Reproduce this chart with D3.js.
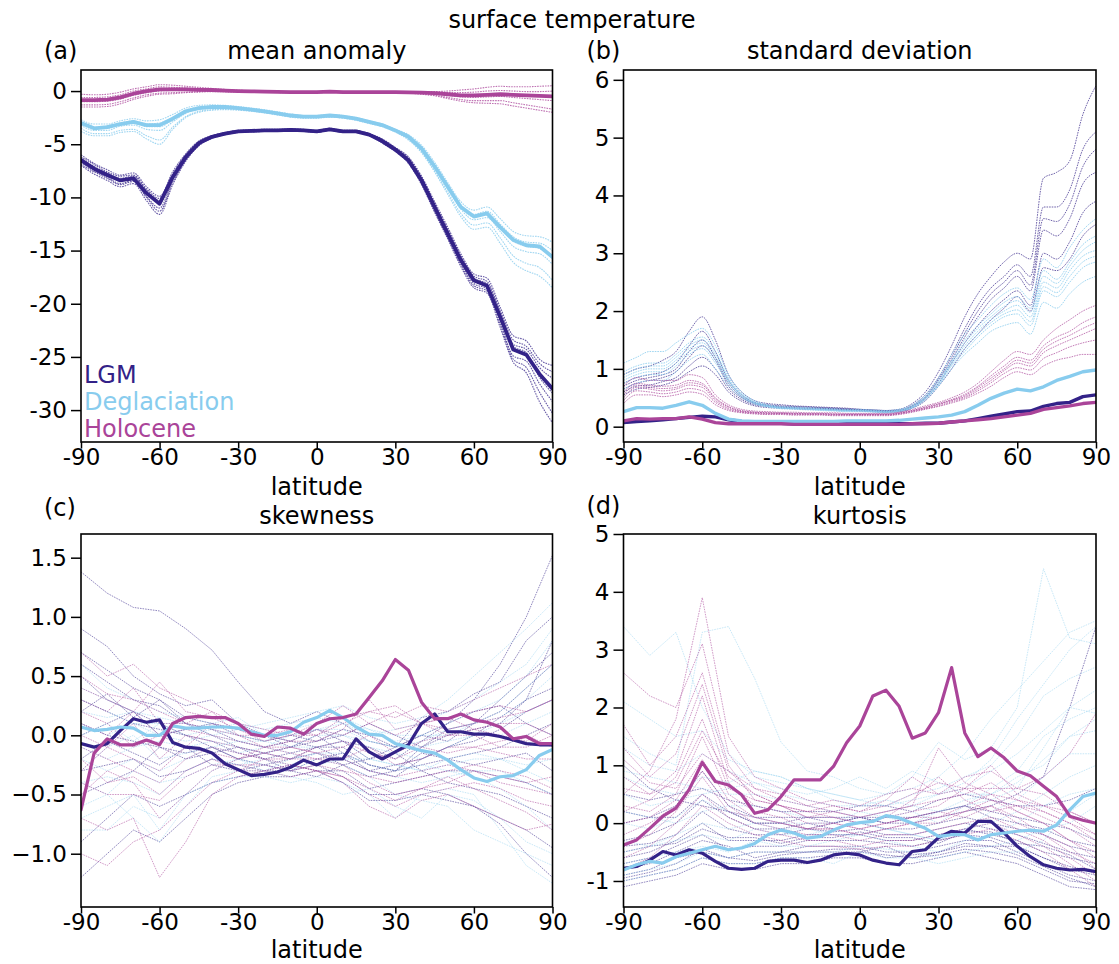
<!DOCTYPE html>
<html>
<head>
<meta charset="utf-8">
<script src="https://cdn.jsdelivr.net/npm/d3@7"></script>
<style>
  body { margin: 0; background: #fff; }
  svg text { font-family: "DejaVu Sans", sans-serif; }
</style>
</head>
<body>
<svg id="fig" width="1119" height="964"></svg>
<script>
// ---------- latitude grids ----------
const lat5 = [-90,-85,-80,-75,-70,-65,-60,-55,-50,-45,-40,-35,-30,-25,-20,-15,-10,-5,0,5,10,15,20,25,30,35,40,45,50,55,60,65,70,75,80,85,90];
const lat10 = [-90,-80,-70,-60,-50,-40,-30,-20,-10,0,10,20,30,40,50,60,70,80,90];
const latTicks = [-90,-60,-30,0,30,60,90];

const seriesNames = ["LGM", "Deglaciation", "Holocene"];
const seriesColors = ["#332288", "#88CCEE", "#AA4499"];

// ---------- (a) mean anomaly ----------
const anomLGM = [-6.5,-7.3,-7.9,-8.4,-8.2,-9.6,-10.6,-8.1,-6.2,-4.9,-4.3,-4.0,-3.8,-3.75,-3.7,-3.7,-3.65,-3.7,-3.8,-3.6,-3.8,-3.8,-4.1,-4.7,-5.5,-6.5,-8.4,-10.9,-13.4,-15.9,-17.8,-18.3,-21.2,-24.3,-24.8,-26.6,-28.0];
const anomDeg = [-3.0,-3.5,-3.4,-3.1,-2.9,-3.2,-3.2,-2.6,-1.9,-1.6,-1.5,-1.5,-1.6,-1.75,-1.9,-2.1,-2.3,-2.4,-2.4,-2.3,-2.4,-2.6,-2.9,-3.2,-3.7,-4.3,-5.4,-7.1,-9.0,-10.9,-11.8,-11.5,-12.8,-14.0,-14.5,-14.6,-15.6];
const anomHol = [-0.85,-0.85,-0.8,-0.6,-0.25,0.0,0.15,0.15,0.15,0.12,0.1,0.05,0.0,-0.03,-0.05,-0.08,-0.1,-0.1,-0.1,-0.05,-0.1,-0.1,-0.1,-0.1,-0.1,-0.12,-0.15,-0.2,-0.3,-0.4,-0.4,-0.35,-0.3,-0.35,-0.4,-0.45,-0.5];

const anomLGMMembers = [
  [-6.0,-6.8,-7.4,-7.9,-7.7,-9.0,-9.9,-7.6,-5.9,-4.7,-4.2,-3.9,-3.7,-3.65,-3.6,-3.6,-3.55,-3.6,-3.7,-3.5,-3.7,-3.7,-4.0,-4.5,-5.3,-6.2,-8.0,-10.4,-12.8,-15.3,-17.2,-17.6,-20.3,-23.0,-23.5,-25.2,-25.8],
  [-6.3,-7.1,-7.7,-8.2,-8.0,-9.3,-10.3,-7.9,-6.1,-4.8,-4.25,-3.95,-3.75,-3.7,-3.65,-3.65,-3.6,-3.65,-3.75,-3.55,-3.75,-3.75,-4.05,-4.6,-5.4,-6.4,-8.2,-10.7,-13.2,-15.7,-17.6,-18.1,-20.9,-23.8,-24.3,-26.0,-27.0],
  [-6.7,-7.5,-8.1,-8.7,-8.4,-9.9,-11.0,-8.4,-6.4,-5.0,-4.35,-4.05,-3.85,-3.8,-3.75,-3.75,-3.7,-3.75,-3.85,-3.65,-3.85,-3.85,-4.15,-4.8,-5.6,-6.6,-8.6,-11.1,-13.6,-16.1,-18.1,-18.6,-21.6,-24.9,-25.4,-27.5,-29.2],
  [-7.0,-7.8,-8.4,-9.0,-8.7,-10.3,-11.6,-8.8,-6.6,-5.15,-4.45,-4.1,-3.9,-3.85,-3.8,-3.8,-3.75,-3.8,-3.9,-3.7,-3.9,-3.9,-4.2,-4.9,-5.7,-6.8,-8.8,-11.4,-13.9,-16.5,-18.5,-19.0,-22.2,-25.5,-26.5,-29.2,-31.2],
  [-6.6,-7.2,-7.8,-8.3,-8.1,-9.5,-10.5,-8.2,-6.3,-5.0,-4.3,-4.0,-3.8,-3.75,-3.7,-3.7,-3.65,-3.7,-3.8,-3.6,-3.8,-3.8,-4.1,-4.7,-5.5,-6.5,-8.3,-10.8,-13.4,-15.9,-17.9,-18.4,-21.0,-24.0,-24.6,-26.9,-28.4],
  [-6.2,-6.9,-7.6,-8.0,-7.9,-9.2,-10.1,-7.8,-6.0,-4.75,-4.2,-3.9,-3.72,-3.68,-3.62,-3.62,-3.58,-3.62,-3.72,-3.52,-3.72,-3.72,-4.02,-4.55,-5.35,-6.3,-8.1,-10.6,-13.0,-15.5,-17.4,-17.9,-20.6,-23.4,-24.0,-25.6,-26.4],
  [-6.9,-7.6,-8.2,-8.8,-8.5,-10.0,-11.3,-8.6,-6.5,-5.1,-4.4,-4.08,-3.88,-3.82,-3.78,-3.78,-3.72,-3.78,-3.88,-3.68,-3.88,-3.88,-4.18,-4.85,-5.65,-6.7,-8.7,-11.3,-13.8,-16.3,-18.3,-18.8,-21.9,-25.2,-26.0,-28.3,-30.3]
];
const anomDegMembers = [
  [-2.7,-3.1,-3.1,-2.8,-2.6,-2.8,-2.7,-2.2,-1.6,-1.35,-1.3,-1.35,-1.45,-1.6,-1.75,-1.95,-2.15,-2.3,-2.3,-2.2,-2.3,-2.5,-2.8,-3.1,-3.6,-4.1,-5.1,-6.7,-8.6,-10.4,-11.2,-10.9,-12.0,-13.2,-13.6,-13.7,-14.2],
  [-2.9,-3.4,-3.3,-3.0,-2.8,-3.1,-3.0,-2.5,-1.8,-1.5,-1.45,-1.45,-1.55,-1.7,-1.85,-2.05,-2.25,-2.35,-2.35,-2.25,-2.35,-2.55,-2.85,-3.15,-3.65,-4.2,-5.3,-6.9,-8.8,-10.7,-11.6,-11.3,-12.5,-13.7,-14.2,-14.3,-15.0],
  [-3.2,-3.7,-3.7,-3.3,-3.2,-3.6,-3.7,-2.9,-2.1,-1.7,-1.6,-1.6,-1.65,-1.8,-1.95,-2.15,-2.35,-2.45,-2.45,-2.35,-2.45,-2.65,-2.95,-3.25,-3.75,-4.4,-5.5,-7.2,-9.2,-11.1,-12.1,-11.9,-13.2,-14.6,-15.1,-15.3,-16.3],
  [-3.5,-4.0,-4.0,-3.7,-3.6,-4.2,-4.6,-3.4,-2.4,-1.9,-1.75,-1.7,-1.75,-1.85,-2.0,-2.2,-2.4,-2.5,-2.5,-2.4,-2.5,-2.7,-3.0,-3.3,-3.8,-4.5,-5.7,-7.5,-9.5,-11.5,-12.6,-12.4,-13.8,-15.5,-16.2,-16.6,-17.8],
  [-3.8,-4.2,-4.2,-3.9,-3.8,-4.5,-5.0,-3.6,-2.5,-2.0,-1.8,-1.75,-1.8,-1.9,-2.05,-2.25,-2.45,-2.55,-2.55,-2.45,-2.55,-2.75,-3.05,-3.35,-3.85,-4.6,-5.8,-7.6,-9.7,-11.8,-13.0,-12.8,-14.3,-16.1,-16.9,-17.4,-18.5],
  [-3.0,-3.5,-3.5,-3.15,-3.0,-3.35,-3.35,-2.7,-1.95,-1.6,-1.52,-1.52,-1.6,-1.75,-1.9,-2.1,-2.3,-2.4,-2.4,-2.3,-2.4,-2.6,-2.9,-3.2,-3.7,-4.3,-5.4,-7.0,-9.0,-10.9,-11.8,-11.6,-12.8,-14.1,-14.6,-14.8,-15.6]
];
const anomHolMembers = [
  [-0.3,-0.35,-0.3,-0.1,0.2,0.4,0.6,0.55,0.45,0.35,0.25,0.15,0.08,0.03,0.0,-0.03,-0.05,-0.05,-0.05,0.0,-0.05,-0.05,-0.05,-0.05,-0.05,-0.05,-0.05,-0.05,0.0,0.1,0.2,0.35,0.45,0.4,0.4,0.45,0.5],
  [-0.6,-0.6,-0.55,-0.35,0.0,0.2,0.4,0.35,0.3,0.25,0.18,0.1,0.04,0.0,-0.03,-0.06,-0.08,-0.08,-0.08,-0.04,-0.08,-0.08,-0.08,-0.08,-0.08,-0.1,-0.1,-0.12,-0.15,-0.15,-0.1,0.0,0.05,0.0,-0.05,-0.05,0.0],
  [-1.0,-1.0,-0.95,-0.75,-0.4,-0.15,0.0,0.05,0.05,0.05,0.05,0.0,-0.02,-0.05,-0.07,-0.1,-0.12,-0.12,-0.12,-0.07,-0.12,-0.12,-0.12,-0.12,-0.12,-0.15,-0.2,-0.28,-0.4,-0.55,-0.6,-0.55,-0.5,-0.6,-0.7,-0.8,-0.9],
  [-1.3,-1.3,-1.25,-1.0,-0.65,-0.35,-0.2,-0.15,-0.1,-0.05,-0.02,-0.05,-0.06,-0.08,-0.1,-0.12,-0.14,-0.14,-0.14,-0.1,-0.14,-0.14,-0.14,-0.14,-0.15,-0.18,-0.25,-0.38,-0.6,-0.8,-0.9,-0.9,-0.9,-1.1,-1.3,-1.5,-1.7],
  [-1.5,-1.5,-1.45,-1.2,-0.8,-0.5,-0.3,-0.25,-0.15,-0.1,-0.05,-0.07,-0.08,-0.1,-0.12,-0.14,-0.16,-0.16,-0.16,-0.12,-0.16,-0.16,-0.16,-0.16,-0.17,-0.2,-0.3,-0.45,-0.7,-0.95,-1.1,-1.15,-1.2,-1.4,-1.6,-1.8,-2.0],
  [-0.8,-0.8,-0.75,-0.55,-0.2,0.05,0.2,0.2,0.18,0.15,0.12,0.05,0.01,-0.03,-0.05,-0.08,-0.1,-0.1,-0.1,-0.05,-0.1,-0.1,-0.1,-0.1,-0.1,-0.12,-0.15,-0.2,-0.3,-0.35,-0.35,-0.3,-0.25,-0.3,-0.35,-0.4,-0.45]
];

// ---------- (b) standard deviation ----------
const sdLGM = [0.07,0.09,0.1,0.12,0.14,0.16,0.18,0.17,0.12,0.09,0.07,0.06,0.06,0.05,0.05,0.05,0.05,0.05,0.05,0.05,0.05,0.05,0.05,0.06,0.06,0.08,0.1,0.14,0.18,0.22,0.26,0.27,0.35,0.4,0.42,0.52,0.55];
const sdDeg = [0.26,0.33,0.33,0.32,0.37,0.43,0.37,0.23,0.13,0.1,0.09,0.09,0.09,0.09,0.09,0.09,0.09,0.1,0.1,0.1,0.1,0.11,0.13,0.15,0.17,0.2,0.26,0.37,0.49,0.58,0.65,0.62,0.69,0.8,0.87,0.95,0.98];
const sdHol = [0.1,0.14,0.13,0.14,0.14,0.17,0.13,0.07,0.05,0.05,0.05,0.05,0.05,0.04,0.04,0.04,0.04,0.04,0.04,0.04,0.04,0.04,0.05,0.05,0.06,0.08,0.1,0.12,0.14,0.17,0.2,0.23,0.3,0.33,0.36,0.4,0.42];

const sdLGMMembers = [
  [0.9,1.0,1.05,1.15,1.3,1.65,1.9,1.5,0.9,0.6,0.45,0.4,0.38,0.36,0.35,0.34,0.33,0.32,0.3,0.29,0.28,0.3,0.4,0.6,0.95,1.4,1.9,2.3,2.6,2.85,3.0,2.9,4.3,4.4,4.6,5.4,5.9],
  [0.75,0.85,0.9,0.95,1.1,1.4,1.65,1.3,0.8,0.55,0.42,0.38,0.36,0.35,0.34,0.33,0.32,0.31,0.3,0.29,0.28,0.29,0.37,0.55,0.85,1.25,1.7,2.1,2.4,2.6,2.8,2.6,3.8,3.8,4.1,4.8,5.1],
  [0.65,0.75,0.8,0.85,0.95,1.2,1.4,1.15,0.7,0.5,0.4,0.36,0.34,0.33,0.32,0.32,0.31,0.3,0.29,0.28,0.27,0.28,0.35,0.5,0.8,1.15,1.55,1.9,2.2,2.4,2.6,2.35,3.4,3.3,3.6,4.2,4.4],
  [0.6,0.7,0.72,0.78,0.85,1.05,1.2,1.0,0.65,0.47,0.38,0.35,0.33,0.32,0.31,0.31,0.3,0.29,0.28,0.27,0.26,0.27,0.33,0.48,0.75,1.1,1.45,1.75,2.0,2.2,2.35,2.1,3.0,2.9,3.2,3.7,3.9],
  [0.55,0.65,0.68,0.72,0.8,0.95,1.05,0.9,0.6,0.44,0.36,0.33,0.32,0.31,0.3,0.3,0.29,0.28,0.27,0.26,0.25,0.26,0.32,0.45,0.7,1.0,1.35,1.6,1.85,2.05,2.25,2.0,2.75,2.7,2.9,3.3,3.5],
  [0.7,0.8,0.85,0.9,1.0,1.3,1.5,1.2,0.75,0.52,0.41,0.37,0.35,0.34,0.33,0.32,0.31,0.3,0.29,0.28,0.27,0.28,0.36,0.52,0.82,1.2,1.62,2.0,2.3,2.5,2.7,2.45,3.6,3.55,3.85,4.5,4.8]
];
const sdDegMembers = [
  [1.1,1.2,1.3,1.3,1.45,1.6,1.7,1.4,0.9,0.6,0.45,0.38,0.35,0.34,0.33,0.32,0.31,0.3,0.3,0.29,0.28,0.3,0.38,0.55,0.85,1.25,1.6,1.85,2.1,2.3,2.4,2.2,2.9,2.75,3.1,3.4,3.6],
  [0.95,1.05,1.1,1.1,1.25,1.45,1.55,1.3,0.85,0.57,0.43,0.37,0.34,0.33,0.32,0.31,0.3,0.29,0.29,0.28,0.27,0.29,0.36,0.52,0.8,1.15,1.5,1.75,1.95,2.15,2.25,2.05,2.7,2.55,2.85,3.15,3.3],
  [0.85,0.95,1.0,1.0,1.15,1.35,1.45,1.2,0.8,0.55,0.42,0.36,0.33,0.32,0.31,0.3,0.29,0.28,0.28,0.27,0.26,0.28,0.34,0.5,0.75,1.1,1.4,1.65,1.85,2.0,2.1,1.9,2.5,2.4,2.7,2.95,3.05],
  [0.75,0.85,0.9,0.9,1.05,1.25,1.35,1.1,0.75,0.52,0.4,0.35,0.32,0.31,0.3,0.29,0.28,0.27,0.27,0.26,0.25,0.27,0.33,0.48,0.72,1.05,1.3,1.55,1.75,1.9,1.95,1.75,2.35,2.25,2.5,2.75,2.85],
  [0.65,0.75,0.8,0.8,0.95,1.15,1.25,1.0,0.7,0.5,0.39,0.34,0.31,0.3,0.29,0.28,0.27,0.26,0.26,0.25,0.24,0.26,0.32,0.46,0.7,1.0,1.25,1.45,1.65,1.75,1.8,1.6,2.15,2.05,2.3,2.5,2.6],
  [0.9,1.0,1.05,1.05,1.2,1.4,1.5,1.25,0.82,0.56,0.42,0.36,0.33,0.32,0.31,0.3,0.29,0.28,0.28,0.27,0.26,0.28,0.35,0.51,0.78,1.12,1.45,1.7,1.9,2.08,2.18,1.98,2.6,2.48,2.78,3.05,3.2],
  [0.8,0.9,0.95,0.95,1.1,1.3,1.4,1.15,0.78,0.53,0.41,0.35,0.32,0.31,0.3,0.29,0.28,0.27,0.27,0.26,0.25,0.27,0.33,0.49,0.73,1.07,1.35,1.6,1.8,1.95,2.02,1.82,2.42,2.32,2.6,2.85,2.95]
];
const sdHolMembers = [
  [0.7,0.85,0.8,0.8,0.8,0.9,0.85,0.55,0.38,0.3,0.27,0.26,0.25,0.25,0.24,0.24,0.24,0.23,0.23,0.23,0.23,0.25,0.3,0.36,0.42,0.5,0.6,0.75,0.95,1.15,1.3,1.25,1.5,1.7,1.85,2.0,2.1],
  [0.6,0.75,0.72,0.7,0.72,0.8,0.75,0.5,0.35,0.28,0.25,0.24,0.24,0.23,0.23,0.23,0.22,0.22,0.22,0.22,0.22,0.24,0.28,0.34,0.4,0.47,0.56,0.7,0.88,1.05,1.2,1.15,1.4,1.55,1.65,1.8,1.9],
  [0.5,0.68,0.65,0.62,0.65,0.72,0.68,0.45,0.32,0.26,0.24,0.23,0.23,0.22,0.22,0.22,0.21,0.21,0.21,0.21,0.21,0.23,0.27,0.32,0.38,0.45,0.52,0.65,0.8,0.97,1.1,1.05,1.28,1.4,1.5,1.6,1.7],
  [0.45,0.62,0.6,0.57,0.6,0.66,0.62,0.42,0.3,0.25,0.23,0.22,0.22,0.21,0.21,0.21,0.2,0.2,0.2,0.2,0.2,0.22,0.26,0.31,0.36,0.43,0.5,0.62,0.76,0.92,1.02,0.98,1.18,1.28,1.38,1.45,1.5],
  [0.4,0.55,0.55,0.52,0.55,0.6,0.56,0.38,0.28,0.24,0.22,0.21,0.21,0.2,0.2,0.2,0.19,0.19,0.19,0.19,0.19,0.21,0.25,0.3,0.35,0.41,0.48,0.58,0.7,0.85,0.95,0.9,1.05,1.15,1.2,1.25,1.25],
  [0.55,0.72,0.68,0.66,0.68,0.76,0.72,0.48,0.34,0.27,0.25,0.24,0.23,0.23,0.22,0.22,0.22,0.21,0.21,0.21,0.21,0.23,0.28,0.33,0.39,0.46,0.54,0.68,0.84,1.0,1.15,1.1,1.34,1.48,1.58,1.7,1.8]
];

// ---------- (c) skewness ----------
const skewLGM = [-0.07,-0.1,-0.07,0.04,0.14,0.11,0.13,-0.06,-0.1,-0.11,-0.15,-0.24,-0.29,-0.34,-0.33,-0.31,-0.27,-0.21,-0.25,-0.2,-0.2,-0.03,-0.14,-0.2,-0.14,-0.08,0.1,0.18,0.03,0.03,0.01,0.01,-0.01,-0.04,-0.07,-0.08,-0.08];
const skewDeg = [0.07,0.04,0.05,0.07,0.06,0.0,0.0,0.08,0.06,0.06,0.07,0.07,0.06,0.03,0.0,0.0,0.03,0.11,0.15,0.21,0.15,0.07,0.01,0.0,-0.07,-0.1,-0.13,-0.15,-0.21,-0.29,-0.36,-0.39,-0.35,-0.34,-0.29,-0.17,-0.12];
const skewHol = [-0.63,-0.15,-0.03,-0.08,-0.08,-0.04,-0.08,0.1,0.15,0.16,0.15,0.15,0.1,0.01,-0.01,0.07,0.06,0.01,0.1,0.14,0.15,0.18,0.32,0.46,0.64,0.55,0.28,0.14,0.14,0.18,0.13,0.11,0.07,-0.03,-0.01,-0.07,-0.07];

const skewLGMMembers = [
  [1.38,1.2,1.08,1.05,0.9,0.72,0.45,0.2,0.1,0.2,0.1,-0.05,-0.1,0.0,0.1,0.3,0.6,1.0,1.52],
  [0.9,0.75,0.5,0.35,0.25,0.3,0.1,0.0,-0.05,0.05,-0.05,-0.2,-0.1,0.15,0.2,0.35,0.45,0.8,1.0],
  [0.6,0.45,0.3,0.25,0.1,0.0,-0.1,-0.15,-0.1,0.0,-0.15,-0.25,-0.3,-0.1,0.05,0.1,0.3,0.5,0.7],
  [0.3,0.2,0.1,0.05,0.0,-0.05,-0.15,-0.2,-0.15,-0.1,-0.2,-0.3,-0.25,-0.2,-0.1,0.0,0.15,0.3,0.4],
  [0.1,0.0,-0.05,-0.1,-0.15,-0.1,-0.2,-0.15,-0.2,-0.15,-0.25,-0.35,-0.3,-0.25,-0.2,-0.15,-0.1,0.0,0.1],
  [-0.3,-0.25,-0.2,-0.35,-0.3,-0.2,-0.25,-0.3,-0.25,-0.3,-0.3,-0.45,-0.4,-0.35,-0.3,-0.3,-0.35,-0.4,-0.5],
  [-0.9,-0.7,-0.5,-0.6,-0.5,-0.4,-0.35,-0.3,-0.3,-0.25,-0.35,-0.5,-0.5,-0.45,-0.5,-0.6,-0.7,-0.8,-0.95],
  [-1.2,-1.0,-0.8,-0.9,-0.7,-0.5,-0.4,-0.35,-0.35,-0.3,-0.4,-0.55,-0.55,-0.5,-0.55,-0.6,-0.75,-1.0,-1.2],
  [0.5,0.3,0.2,0.1,0.0,-0.1,-0.2,-0.25,-0.3,-0.2,-0.15,-0.3,-0.35,-0.2,-0.1,-0.05,0.05,0.2,0.3],
  [0.2,0.35,0.15,0.3,0.1,0.05,-0.05,-0.1,-0.05,-0.1,-0.05,-0.1,-0.2,-0.05,0.1,0.2,0.25,0.1,0.0],
  [-0.5,-0.4,-0.3,-0.1,-0.2,-0.15,-0.1,-0.2,-0.3,-0.35,-0.25,-0.2,-0.15,-0.3,-0.4,-0.45,-0.5,-0.6,-0.7],
  [0.0,0.1,0.2,0.0,0.05,0.1,0.0,-0.05,0.0,-0.05,0.05,0.0,-0.1,0.0,-0.05,0.1,0.2,0.4,0.6],
  [-0.2,-0.05,-0.15,-0.25,-0.1,-0.25,-0.3,-0.25,-0.2,-0.1,-0.1,-0.25,-0.3,-0.15,-0.2,-0.25,-0.2,-0.15,-0.3],
  [0.7,0.55,0.4,0.3,0.15,0.1,0.05,0.0,-0.1,-0.05,0.0,0.1,0.0,-0.1,0.0,0.05,0.1,0.3,0.8]
];
const skewDegMembers = [
  [0.6,0.4,0.3,0.2,0.15,0.1,0.05,0.1,0.15,0.2,0.25,0.15,0.1,0.15,0.3,0.5,0.7,0.9,1.12],
  [0.3,0.2,0.1,0.1,0.0,0.05,0.0,-0.05,0.05,0.1,0.15,0.05,0.0,0.0,0.1,0.2,0.3,0.5,0.8],
  [-0.1,-0.2,-0.1,-0.05,-0.1,-0.05,-0.1,-0.15,-0.1,0.0,0.0,-0.1,-0.15,-0.2,-0.1,0.0,0.1,0.2,0.3],
  [-0.4,-0.35,-0.4,-0.5,-0.3,-0.2,-0.25,-0.2,-0.25,-0.15,-0.2,-0.3,-0.35,-0.4,-0.35,-0.3,-0.3,-0.4,-0.5],
  [-0.6,-0.5,-0.7,-0.9,-0.6,-0.35,-0.3,-0.3,-0.35,-0.4,-0.5,-0.45,-0.6,-0.7,-0.5,-0.55,-0.7,-0.9,-1.0],
  [-0.8,-0.8,-0.6,-0.7,-0.5,-0.4,-0.35,-0.35,-0.4,-0.35,-0.4,-0.5,-0.7,-0.5,-0.45,-0.5,-0.8,-1.1,-1.25],
  [0.1,0.0,0.1,0.0,0.05,0.1,0.15,0.0,-0.05,0.05,0.1,0.05,-0.05,0.0,0.0,0.1,0.15,0.3,0.5],
  [-0.3,-0.1,0.0,-0.2,-0.15,-0.1,-0.15,-0.1,-0.15,-0.25,-0.2,-0.2,-0.25,-0.3,-0.25,-0.2,-0.2,-0.25,-0.2],
  [0.4,0.3,0.2,0.0,-0.05,0.0,0.05,0.0,0.0,0.05,0.05,-0.05,-0.1,-0.05,0.05,0.1,0.2,0.4,0.6],
  [-0.2,-0.3,-0.2,-0.3,-0.2,-0.1,-0.05,-0.05,-0.1,-0.1,-0.05,-0.2,-0.25,-0.3,-0.2,-0.15,-0.2,-0.3,-0.4],
  [0.0,0.1,-0.05,0.1,0.1,0.0,-0.05,-0.1,0.0,0.05,0.0,-0.05,-0.1,-0.1,-0.05,0.0,0.0,0.1,0.2],
  [-0.7,-0.6,-0.5,-0.8,-0.5,-0.3,-0.2,-0.25,-0.3,-0.2,-0.25,-0.35,-0.5,-0.55,-0.6,-0.8,-0.9,-1.0,-1.1],
  [0.2,0.15,0.2,0.15,0.1,0.05,0.1,0.05,0.1,0.15,0.1,0.0,0.05,0.1,0.2,0.3,0.45,0.6,0.9],
  [-0.4,-0.5,-0.3,-0.4,-0.35,-0.25,-0.2,-0.3,-0.2,-0.15,-0.15,-0.25,-0.3,-0.25,-0.3,-0.35,-0.45,-0.6,-0.8]
];
const skewHolMembers = [
  [0.7,0.5,0.6,0.4,0.3,0.2,0.1,0.05,0.0,0.0,0.1,0.2,0.15,0.25,0.2,0.3,0.4,0.5,0.6],
  [0.4,0.3,0.2,0.45,0.2,0.15,0.05,0.0,-0.05,-0.05,0.05,0.3,0.05,0.1,0.15,0.2,0.25,0.2,0.3],
  [0.2,0.1,-0.1,0.0,0.05,0.0,-0.05,-0.1,-0.1,-0.15,-0.1,0.0,-0.15,-0.05,0.0,0.05,0.1,0.1,0.0],
  [-0.1,-0.2,-0.3,-0.4,-0.2,-0.1,-0.15,-0.2,-0.2,-0.2,-0.2,-0.1,-0.25,-0.2,-0.1,-0.1,-0.15,-0.2,-0.2],
  [-0.4,-0.5,-0.5,-0.55,-0.35,-0.25,-0.25,-0.25,-0.3,-0.25,-0.3,-0.35,-0.4,-0.35,-0.3,-0.25,-0.3,-0.35,-0.45],
  [-0.7,-0.8,-0.7,-1.2,-0.9,-0.5,-0.35,-0.3,-0.35,-0.3,-0.35,-0.5,-0.6,-0.5,-0.45,-0.4,-0.45,-0.55,-0.6],
  [-1.0,-1.1,-0.9,-0.8,-0.6,-0.4,-0.3,-0.2,-0.25,-0.3,-0.4,-0.6,-0.7,-0.55,-0.5,-0.6,-0.7,-0.8,-0.75],
  [0.1,0.0,0.2,0.0,-0.1,0.1,0.05,-0.05,0.0,0.1,0.25,0.1,0.0,0.1,0.15,0.05,0.0,-0.05,0.1],
  [0.5,0.35,0.3,0.2,0.1,0.05,0.0,-0.1,-0.05,0.05,0.0,0.1,0.2,0.1,0.05,0.1,0.15,0.2,0.3],
  [-0.3,-0.1,-0.2,-0.3,-0.1,-0.15,-0.2,-0.15,-0.1,-0.15,-0.2,-0.3,-0.35,-0.3,-0.25,-0.3,-0.4,-0.45,-0.5],
  [0.0,-0.1,0.1,-0.2,0.0,-0.05,-0.1,-0.15,-0.2,-0.1,-0.05,-0.15,-0.2,-0.1,-0.15,-0.1,-0.05,0.0,-0.1],
  [-0.5,-0.3,-0.4,-0.7,-0.5,-0.3,-0.2,-0.1,-0.15,-0.2,-0.25,-0.4,-0.5,-0.45,-0.35,-0.45,-0.55,-0.65,-0.8],
  [0.3,0.2,0.4,0.1,0.1,0.2,0.0,0.0,0.05,0.0,0.15,0.2,0.25,0.1,0.0,0.0,-0.1,-0.1,0.0],
  [-0.2,-0.4,-0.35,-0.5,-0.3,-0.2,-0.3,-0.3,-0.25,-0.3,-0.35,-0.45,-0.55,-0.45,-0.4,-0.3,-0.35,-0.4,-0.35]
];

// ---------- (d) kurtosis ----------
const kurtLGM = [-0.78,-0.75,-0.64,-0.49,-0.55,-0.46,-0.52,-0.66,-0.78,-0.8,-0.78,-0.66,-0.64,-0.64,-0.68,-0.64,-0.55,-0.52,-0.55,-0.64,-0.69,-0.72,-0.49,-0.46,-0.25,-0.14,-0.17,0.03,0.03,-0.17,-0.4,-0.58,-0.72,-0.78,-0.81,-0.8,-0.84];
const kurtDeg = [-0.81,-0.72,-0.66,-0.69,-0.58,-0.52,-0.46,-0.4,-0.46,-0.43,-0.35,-0.2,-0.12,-0.17,-0.26,-0.23,-0.12,-0.03,0.01,0.03,0.13,0.09,0.0,-0.09,-0.23,-0.2,-0.2,-0.29,-0.2,-0.17,-0.14,-0.12,-0.14,-0.03,0.23,0.46,0.52];
const kurtHol = [-0.38,-0.29,-0.09,0.12,0.26,0.58,1.05,0.72,0.66,0.49,0.17,0.23,0.46,0.75,0.75,0.75,0.98,1.39,1.68,2.2,2.3,2.02,1.47,1.56,1.91,2.69,1.56,1.15,1.3,1.13,0.9,0.82,0.64,0.46,0.12,0.05,0.0];

const kurtLGMMembers = [
  [-1.1,-1.0,-0.9,-0.7,-0.8,-0.8,-0.7,-0.7,-0.6,-0.6,-0.7,-0.7,-0.6,-0.5,-0.6,-0.7,-0.9,-1.1,-1.15],
  [-0.9,-0.8,-0.6,-0.5,-0.6,-0.5,-0.5,-0.4,-0.4,-0.4,-0.5,-0.5,-0.4,-0.3,-0.3,-0.5,-0.7,-0.9,-1.0],
  [-0.6,-0.5,-0.3,0.0,-0.3,-0.3,-0.3,-0.2,-0.2,-0.2,-0.3,-0.3,-0.2,-0.1,-0.2,-0.3,-0.5,-0.6,-0.7],
  [-0.3,-0.2,0.0,0.4,0.1,-0.1,-0.1,0.0,-0.1,0.0,-0.1,-0.1,0.0,0.1,0.0,-0.1,-0.2,-0.4,-0.5],
  [0.0,0.1,0.3,0.9,0.3,0.1,0.1,0.1,0.1,0.1,0.1,0.1,0.2,0.3,0.2,0.1,0.0,-0.1,-0.3],
  [0.5,0.4,0.5,0.6,0.4,0.3,0.2,0.2,0.2,0.3,0.3,0.2,0.4,0.5,0.4,0.3,0.3,0.4,0.6],
  [-0.8,-0.7,-0.5,-0.3,-0.4,-0.6,-0.5,-0.5,-0.5,-0.5,-0.4,-0.6,-0.5,-0.4,-0.4,-0.4,-0.6,-0.8,-0.9],
  [1.0,0.6,0.4,0.3,0.2,0.0,0.0,-0.1,0.0,0.1,0.0,0.0,0.1,0.2,0.3,0.5,0.8,2.0,3.4],
  [-1.0,-0.9,-0.8,-0.6,-0.7,-0.7,-0.6,-0.6,-0.55,-0.5,-0.55,-0.6,-0.55,-0.45,-0.5,-0.6,-0.8,-1.0,-1.05],
  [-0.7,-0.6,-0.4,-0.2,-0.45,-0.4,-0.4,-0.3,-0.3,-0.3,-0.35,-0.4,-0.3,-0.2,-0.25,-0.4,-0.6,-0.75,-0.85],
  [-0.4,-0.35,-0.2,0.2,-0.1,-0.2,-0.2,-0.1,-0.15,-0.1,-0.2,-0.2,-0.1,0.0,-0.1,-0.2,-0.35,-0.5,-0.6],
  [0.2,0.1,0.1,0.5,0.2,0.0,0.0,0.1,0.0,0.1,0.0,0.1,0.2,0.3,0.1,0.0,-0.1,-0.3,-0.4],
  [-0.95,-0.85,-0.7,-0.45,-0.6,-0.65,-0.55,-0.5,-0.45,-0.45,-0.6,-0.55,-0.5,-0.35,-0.4,-0.55,-0.75,-0.95,-1.1],
  [-0.5,-0.4,-0.35,-0.1,-0.25,-0.25,-0.35,-0.25,-0.25,-0.15,-0.25,-0.25,-0.35,-0.15,-0.15,-0.35,-0.4,-0.55,-0.8]
];
const kurtDegMembers = [
  [3.4,2.9,3.3,2.0,1.2,0.8,0.7,0.6,0.5,0.4,0.5,0.6,0.8,1.2,1.8,2.3,2.8,3.3,3.5],
  [1.5,1.2,1.0,3.3,3.4,2.5,1.4,0.9,0.8,0.6,0.5,0.8,1.4,1.1,1.3,2.0,4.4,3.2,3.1],
  [0.8,0.6,0.5,0.8,0.7,0.9,0.8,0.6,0.5,0.4,0.3,0.5,0.6,0.8,1.0,1.5,2.2,2.5,2.7],
  [0.2,0.1,0.0,0.2,0.3,0.3,0.2,0.1,0.1,0.0,0.1,0.2,0.0,0.3,0.6,0.9,1.5,1.8,2.0],
  [-0.3,-0.4,-0.2,0.0,-0.1,0.0,-0.1,-0.1,-0.2,-0.2,-0.1,-0.2,-0.3,-0.1,0.2,0.4,0.8,1.2,1.2],
  [-0.7,-0.6,-0.5,-0.4,-0.5,-0.3,-0.4,-0.4,-0.3,-0.2,-0.3,-0.4,-0.5,-0.3,-0.2,0.0,0.3,0.5,0.6],
  [1.3,1.0,0.9,1.2,0.9,0.7,0.6,0.5,0.6,0.8,0.6,0.9,0.7,0.5,0.5,0.8,1.0,1.5,1.8],
  [-1.0,-0.9,-0.8,-0.6,-0.7,-0.7,-0.6,-0.6,-0.7,-0.5,-0.6,-0.6,-0.7,-0.6,-0.5,-0.5,-0.3,0.2,0.5],
  [0.5,0.3,0.4,0.5,0.6,0.7,0.5,0.4,0.3,0.3,0.4,0.3,0.5,0.6,0.9,1.2,1.6,2.0,2.3],
  [-0.5,-0.4,-0.3,-0.2,-0.3,-0.1,-0.2,-0.2,-0.1,0.0,-0.1,-0.2,-0.3,-0.1,0.0,0.2,0.5,0.8,1.0],
  [0.0,-0.1,0.1,0.4,0.2,0.1,0.0,0.0,0.0,0.2,0.1,0.0,0.2,0.4,0.5,0.7,1.1,1.5,1.6],
  [2.1,1.8,1.5,1.6,1.1,0.9,0.8,0.6,0.4,0.3,0.3,0.4,0.5,0.7,1.1,1.8,2.4,3.0,3.4],
  [-0.9,-0.8,-0.7,-0.5,-0.6,-0.5,-0.5,-0.5,-0.5,-0.4,-0.45,-0.5,-0.6,-0.5,-0.4,-0.3,-0.1,0.0,0.3],
  [0.9,0.8,0.7,0.6,0.5,0.5,0.4,0.3,0.2,0.1,0.2,0.3,0.2,0.3,0.4,0.6,1.3,2.0,1.9]
];
const kurtHolMembers = [
  [0.5,0.9,1.8,3.9,1.5,0.8,0.6,0.4,0.3,0.2,0.4,0.8,0.5,0.6,0.4,0.3,0.2,0.0,-0.3],
  [2.6,2.2,2.0,3.1,1.2,0.6,0.5,0.3,0.2,0.1,0.2,0.3,1.3,0.7,0.5,0.4,0.3,0.1,-0.2],
  [1.7,1.0,1.5,2.6,1.0,0.4,0.3,0.2,0.1,0.0,0.1,0.2,0.3,0.6,1.0,0.5,0.3,0.2,0.0],
  [0.8,0.5,0.9,2.2,0.7,0.3,0.2,0.0,0.0,-0.1,0.0,0.1,0.1,0.3,0.5,0.2,0.0,-0.3,-0.5],
  [0.3,0.2,0.5,1.5,0.5,0.2,0.1,-0.1,-0.1,-0.2,-0.1,0.0,0.0,0.2,0.3,0.1,-0.2,-0.5,-0.7],
  [-0.2,0.0,0.3,0.9,0.3,0.0,-0.1,-0.2,-0.2,-0.3,-0.2,-0.2,-0.1,0.0,0.1,-0.1,-0.3,-0.6,-0.9],
  [-0.6,-0.4,0.0,0.5,0.1,-0.1,-0.2,-0.3,-0.3,-0.4,-0.3,-0.3,-0.2,-0.1,0.0,-0.2,-0.4,-0.7,-1.0],
  [1.1,0.7,0.6,1.2,0.9,0.6,0.4,0.3,0.4,0.3,0.5,0.6,0.5,0.8,0.9,0.6,0.8,1.2,1.9],
  [0.2,0.4,0.8,1.8,0.6,0.4,0.3,0.1,0.2,0.1,0.2,0.3,0.4,0.5,0.7,0.4,0.2,0.0,-0.2],
  [-0.4,-0.2,0.2,0.8,0.2,0.1,0.0,-0.1,-0.1,-0.2,-0.1,0.0,0.1,0.2,0.4,0.2,0.0,-0.3,-0.6],
  [1.3,0.8,1.2,2.4,0.9,0.5,0.3,0.2,0.3,0.2,0.3,0.5,0.7,0.6,0.6,0.6,0.5,0.2,0.0],
  [0.0,0.1,0.4,1.1,0.4,0.1,0.0,-0.1,0.0,-0.1,0.0,0.1,0.2,0.1,0.3,0.0,-0.2,-0.4,-0.8],
  [-0.8,-0.6,-0.2,0.3,0.0,-0.2,-0.3,-0.4,-0.4,-0.45,-0.4,-0.4,-0.3,-0.2,-0.1,-0.3,-0.5,-0.8,-1.1],
  [0.6,0.5,0.7,1.6,0.8,0.5,0.3,0.1,0.1,0.0,0.1,0.4,0.8,0.4,0.2,0.3,0.1,-0.1,-0.4]
];

// ---------- tick values ----------
const anomTicks = [0,-5,-10,-15,-20,-25,-30];
const sdTicks = [0,1,2,3,4,5,6];
const skewTicks = [-1.0,-0.5,0.0,0.5,1.0,1.5];
const kurtTicks = [-1,0,1,2,3,4,5];

// ---------- figure ----------
const svg = d3.select("#fig");
const FONT = 24;       // titles and axis labels
const TICK_FONT = 23;  // tick labels

svg.append("text")
  .attr("x", 572).attr("y", 28)
  .attr("text-anchor", "middle")
  .attr("font-size", FONT)
  .text("surface temperature");

const hyphen = v => String(v).replace("\u2212", "-");
const minus1 = v => (v < 0 ? "\u2212" : "") + Math.abs(v).toFixed(1);

const panels = [
  { tag: "(a)", title: "mean anomaly", left: 81, right: 552.5, top: 70, bottom: 442,
    yDomain: [-33.0, 1.98], yTicks: anomTicks, yFmt: d => hyphen(d3.format("d")(d)),
    thick: [anomLGM, anomDeg, anomHol], members: [anomLGMMembers, anomDegMembers, anomHolMembers],
    memberLat: lat5, memberCurve: d3.curveMonotoneX, memberAlpha: [0.75, 0.8, 0.75], memberW: 1.1,
    thickW: 3.8, tagY: 59, titleY: 59, xLabelDy: 53, legend: true },
  { tag: "(b)", title: "standard deviation", left: 623.5, right: 1096, top: 70, bottom: 442,
    yDomain: [-0.265, 6.17], yTicks: sdTicks, yFmt: d => d3.format("d")(d),
    thick: [sdLGM, sdDeg, sdHol], members: [sdLGMMembers, sdDegMembers, sdHolMembers],
    memberLat: lat5, memberCurve: d3.curveMonotoneX, memberAlpha: [0.7, 0.8, 0.7], memberW: 1.0,
    thickW: 3.4, tagY: 59, titleY: 59, xLabelDy: 53 },
  { tag: "(c)", title: "skewness", left: 81, right: 552.5, top: 534, bottom: 907,
    yDomain: [-1.45, 1.70], yTicks: skewTicks, yFmt: minus1,
    thick: [skewLGM, skewDeg, skewHol], members: [skewLGMMembers, skewDegMembers, skewHolMembers],
    memberLat: lat10, memberCurve: d3.curveLinear, memberAlpha: [0.6, 0.5, 0.6], memberW: 0.9,
    thickW: 3.2, tagY: 516, titleY: 524, xLabelDy: 51 },
  { tag: "(d)", title: "kurtosis", left: 623.5, right: 1096, top: 534, bottom: 907,
    yDomain: [-1.45, 5.0], yTicks: kurtTicks, yFmt: d => hyphen(d3.format("d")(d)),
    thick: [kurtLGM, kurtDeg, kurtHol], members: [kurtLGMMembers, kurtDegMembers, kurtHolMembers],
    memberLat: lat10, memberCurve: d3.curveLinear, memberAlpha: [0.6, 0.5, 0.6], memberW: 0.9,
    thickW: 3.2, tagY: 514, titleY: 524, xLabelDy: 51 }
];

panels.forEach((p, pi) => {
  const g = svg.append("g");
  const x = d3.scaleLinear().domain([-90, 90]).range([p.left, p.right]);
  const y = d3.scaleLinear().domain(p.yDomain).range([p.bottom, p.top]);

  const clipId = "clip" + pi;
  svg.append("clipPath").attr("id", clipId)
    .append("rect")
    .attr("x", p.left).attr("y", p.top)
    .attr("width", p.right - p.left).attr("height", p.bottom - p.top);

  const plot = g.append("g").attr("clip-path", `url(#${clipId})`);

  // ensemble members: thin dotted lines
  p.members.forEach((set, si) => {
    const ln = d3.line().x((d, i) => x(p.memberLat[i])).y(d => y(d)).curve(p.memberCurve);
    set.forEach(m => {
      plot.append("path")
        .attr("d", ln(m))
        .attr("fill", "none")
        .attr("stroke", seriesColors[si])
        .attr("stroke-opacity", p.memberAlpha[si])
        .attr("stroke-width", p.memberW)
        .attr("stroke-dasharray", "1.6,1");
    });
  });

  // thick reference lines
  const lnThick = d3.line().x((d, i) => x(lat5[i])).y(d => y(d));
  p.thick.forEach((vals, si) => {
    plot.append("path")
      .attr("d", lnThick(vals))
      .attr("fill", "none")
      .attr("stroke", seriesColors[si])
      .attr("stroke-width", p.thickW)
      .attr("stroke-linejoin", "round")
      .attr("stroke-linecap", "round");
  });

  // axes
  const xAxis = d3.axisBottom(x).tickValues(latTicks).tickSize(6.5).tickPadding(0)
    .tickFormat(d => hyphen(d3.format("d")(d)));
  const yAxis = d3.axisLeft(y).tickValues(p.yTicks).tickSize(10).tickPadding(4)
    .tickFormat(p.yFmt);

  const gx = g.append("g").attr("transform", `translate(0,${p.bottom})`).call(xAxis);
  const gy = g.append("g").attr("transform", `translate(${p.left},0)`).call(yAxis);
  [gx, gy].forEach(a => {
    a.attr("font-size", TICK_FONT).attr("font-family", "DejaVu Sans");
    a.select(".domain").remove();
    a.selectAll(".tick line").attr("stroke", "#000").attr("stroke-width", 1.5);
    a.selectAll(".tick text").attr("fill", "#000");
  });

  // frame
  g.append("rect")
    .attr("x", p.left).attr("y", p.top)
    .attr("width", p.right - p.left).attr("height", p.bottom - p.top)
    .attr("fill", "none").attr("stroke", "#000").attr("stroke-width", 1.6);

  // labels
  g.append("text")
    .attr("x", (p.left + p.right) / 2).attr("y", p.titleY)
    .attr("text-anchor", "middle").attr("font-size", FONT)
    .text(p.title);
  g.append("text")
    .attr("x", p.left - 37).attr("y", p.tagY)
    .attr("font-size", FONT)
    .text(p.tag);
  g.append("text")
    .attr("x", (p.left + p.right) / 2).attr("y", p.bottom + p.xLabelDy)
    .attr("text-anchor", "middle").attr("font-size", FONT)
    .text("latitude");

  if (p.legend) {
    const leg = g.append("g");
    seriesNames.forEach((name, si) => {
      leg.append("text")
        .attr("x", p.left + 3).attr("y", 383 + si * 27)
        .attr("font-size", FONT)
        .attr("fill", seriesColors[si])
        .text(name);
    });
  }
});
</script>
</body>
</html>
